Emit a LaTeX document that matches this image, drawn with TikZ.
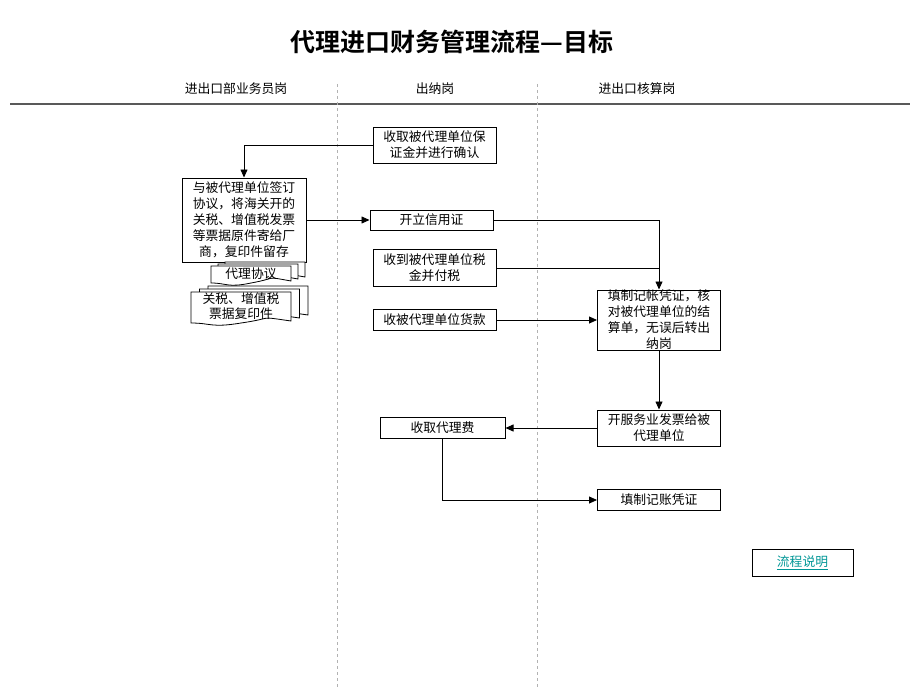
\documentclass[tikz,border=0pt]{standalone}
\usepackage{fontspec}
\newfontfamily\cjk[BoldFont={Noto Sans CJK SC Bold}]{Noto Sans CJK SC}
\usetikzlibrary{arrows.meta,positioning}

\definecolor{linkteal}{RGB}{0,150,150}

% one sheet of a document stack: x, y, width, height
\newcommand{\docsheet}[4]{%
  \draw[fill=white,line width=0.8pt] (#1,#2) -- ++(#3,0) -- ++(0,#4-2)
    .. controls ++(-0.35*#3,-5) and ++(0.35*#3,-5) .. ++(-0.5*#3,2)
    .. controls ++(-0.3*#3,5) and ++(0.2*#3,0) .. (#1,#2+#4) -- cycle;}

\begin{document}
\begin{tikzpicture}[x=1pt,y=-1pt,>={Triangle[length=8pt,width=7pt]},
    font=\cjk\fontsize{12.8}{16}\selectfont,
    box/.style={draw,line width=1pt,align=center,inner sep=0pt,minimum width=123pt},
    flow/.style={->,line width=0.8pt},
    lane/.style={gray!60,dashed,line width=0.8pt}]
  \useasboundingbox (0,0) rectangle (920,690);

  % title and lanes
  \node[font=\cjk\bfseries\fontsize{25}{30}\selectfont] (title) at (452,42) {代理进口财务管理流程—目标};
  \node (laneA) at (236,89) {进出口部业务员岗};
  \node (laneB) at (435,89) {出纳岗};
  \node (laneC) at (637,89) {进出口核算岗};
  \draw[gray!70!black,line width=2pt] (10,104) -- (910,104);
  \draw[lane] (337,84) -- (337,690);
  \draw[lane] (537,84) -- (537,690);

  % boxes
  \node[box,minimum height=36pt] (baozheng) at (434.5,145) {收取被代理单位保\\证金并进行确认};
  \node[box,minimum width=124pt,minimum height=84pt] (xieyi) at (244,220) {与被代理单位签订\\协议，将海关开的\\关税、增值税发票\\等票据原件寄给厂\\商，复印件留存};
  \node[box,minimum height=20pt] (xinyong) at (431.5,220) {开立信用证};
  \node[box,minimum height=37pt] (shuijin) at (434.5,268) {收到被代理单位税\\金并付税};
  \node[box,minimum height=21pt] (huokuan) at (434.5,320) {收被代理单位货款};
  \node[box,minimum height=60pt] (jizhang) at (659,320) {填制记帐凭证，核\\对被代理单位的结\\算单，无误后转出\\纳岗};
  \node[box,minimum height=36pt] (fapiao) at (659,428) {开服务业发票给被\\代理单位};
  \node[box,minimum width=125pt,minimum height=21pt] (dailifei) at (442.5,428) {收取代理费};
  \node[box,minimum height=21pt] (pingzheng) at (659,500) {填制记账凭证};

  % document stacks
  \foreach \i in {2,1,0} {\docsheet{211+7*\i}{266-2*\i}{80}{17}}
  \node (hetong) at (251,274) {代理协议};
  \foreach \i in {2,1,0} {\docsheet{191+8.5*\i}{292-3*\i}{100}{31}}
  \node[align=center,font=\cjk\fontsize{12.8}{15}\selectfont] (fuyin) at (241,306) {关税、增值税\\票据复印件};

  % link
  \node[draw,line width=0.8pt,minimum width=101pt,minimum height=27pt,text=linkteal] (shuoming) at (802.5,562.5) {\underline{流程说明}};

  % connectors
  \draw[flow] (baozheng.west) -| (xieyi.north);
  \draw[flow] (xieyi.east) -- (xinyong.west);
  \draw[flow] (xinyong.east) -| (jizhang.north);
  \coordinate (merge) at (jizhang.north |- shuijin.east);
  \draw[line width=0.8pt] (shuijin.east) -- (merge);
  \draw[flow] (huokuan.east) -- (jizhang.west);
  \draw[flow] (jizhang.south) -- (fapiao.north);
  \draw[flow] (fapiao.west) -- (dailifei.east);
  \draw[flow] (dailifei.south) |- (pingzheng.west);
\end{tikzpicture}
\end{document}
